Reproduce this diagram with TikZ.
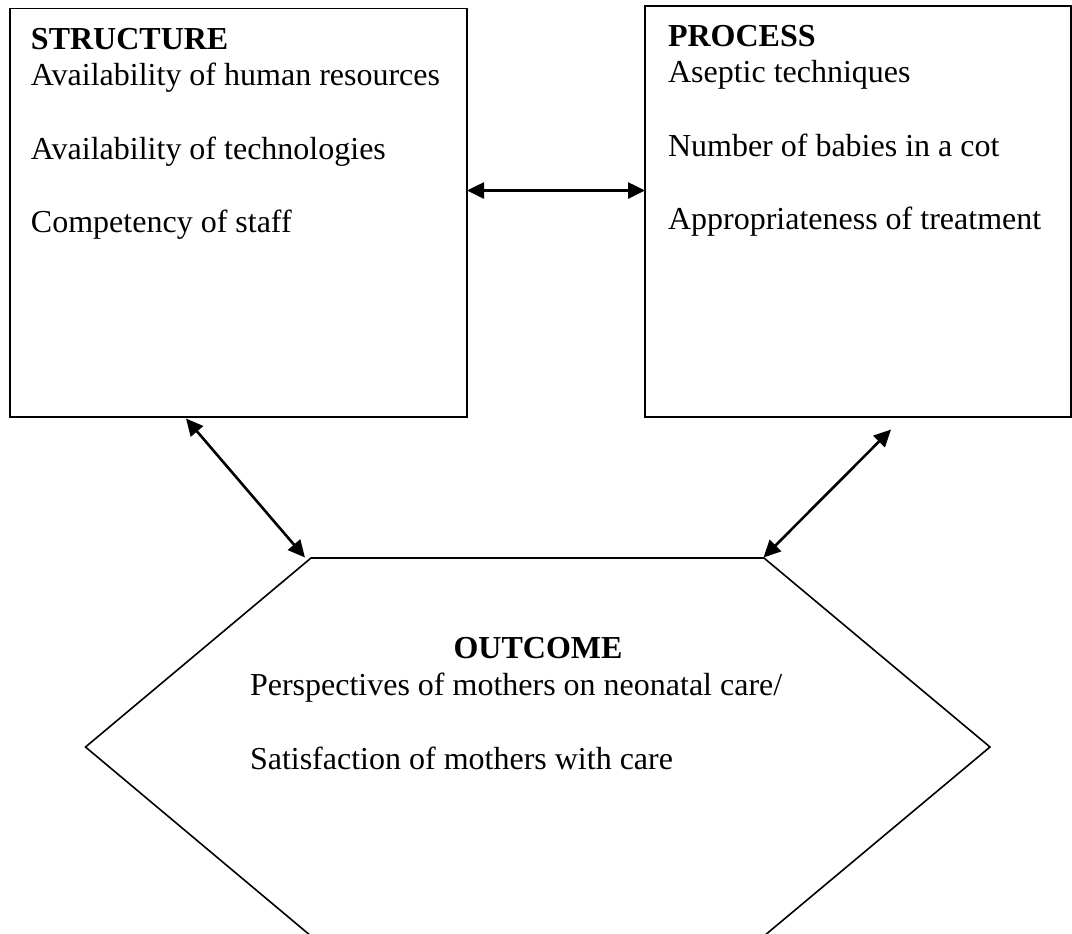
\documentclass[tikz,border=0pt]{standalone}
\usepackage{fontspec}
\setmainfont{Liberation Serif}
\usetikzlibrary{arrows.meta}
\tikzset{
  box/.style={draw, line width=0.8pt, inner sep=0pt, outer sep=0pt, anchor=north west},
  txt/.style={inner sep=0pt, outer sep=0pt, anchor=base west, font=\fontsize{16}{18.4}\selectfont},
  head/.style={inner sep=0pt, outer sep=0pt, font=\fontsize{16}{18.4}\selectfont\bfseries},
  link/.style={line width=1.3pt, {Triangle[length=8.5pt,width=8pt]}-{Triangle[length=8.5pt,width=8pt]}},
  hexline/.style={line width=0.8pt, line join=miter}
}
\begin{document}
\begin{tikzpicture}[x=0.5pt,y=-0.5pt]
\useasboundingbox (0,0) rectangle (1072,933);
\clip (0,0) rectangle (1072,933);
% boxes
\node[box, minimum width=228.5pt, minimum height=204.4pt] (S) at (10,8.3) {};
\node[box, minimum width=213pt, minimum height=205.5pt] (P) at (645,6) {};
% structure text
\node[head, anchor=base west] (sh) at (31,49) {STRUCTURE};
\node[txt] (s1) at (31,85.5) {Availability of human resources};
\node[txt] (s2) at (31,159) {Availability of technologies};
\node[txt] (s3) at (31,232) {Competency of staff};
% process text
\node[head, anchor=base west] (ph) at (668,46) {PROCESS};
\node[txt] (p1) at (668,82) {Aseptic techniques};
\node[txt] (p2) at (668,156) {Number of babies in a cot};
\node[txt] (p3) at (668,229) {Appropriateness of treatment};
% outcome hexagon
\coordinate (h1) at (311,558);
\coordinate (h2) at (764,558);
\coordinate (h3) at (990,747);
\coordinate (h4) at (764,936);
\coordinate (h5) at (311,936);
\coordinate (h6) at (85.5,747);
\draw[hexline] (h1) -- (h2) -- (h3) -- (h4) -- (h5) -- (h6) -- cycle;
\node[head, anchor=base] (oh) at (538,658) {OUTCOME};
\node[txt] (o1) at (250,695) {Perspectives of mothers on neonatal care/};
\node[txt] (o2) at (250,769) {Satisfaction of mothers with care};
% connectors
\coordinate (sp) at (0,190.5);
\draw[link] (S.east |- sp) -- (P.west |- sp);
\coordinate (sa) at (186,418.5);
\coordinate (oa) at (305,557.5);
\draw[link] (sa) -- (oa);
\coordinate (pa) at (891,429.5);
\coordinate (ob) at (763.5,557.5);
\draw[link] (pa) -- (ob);
\end{tikzpicture}
\end{document}
